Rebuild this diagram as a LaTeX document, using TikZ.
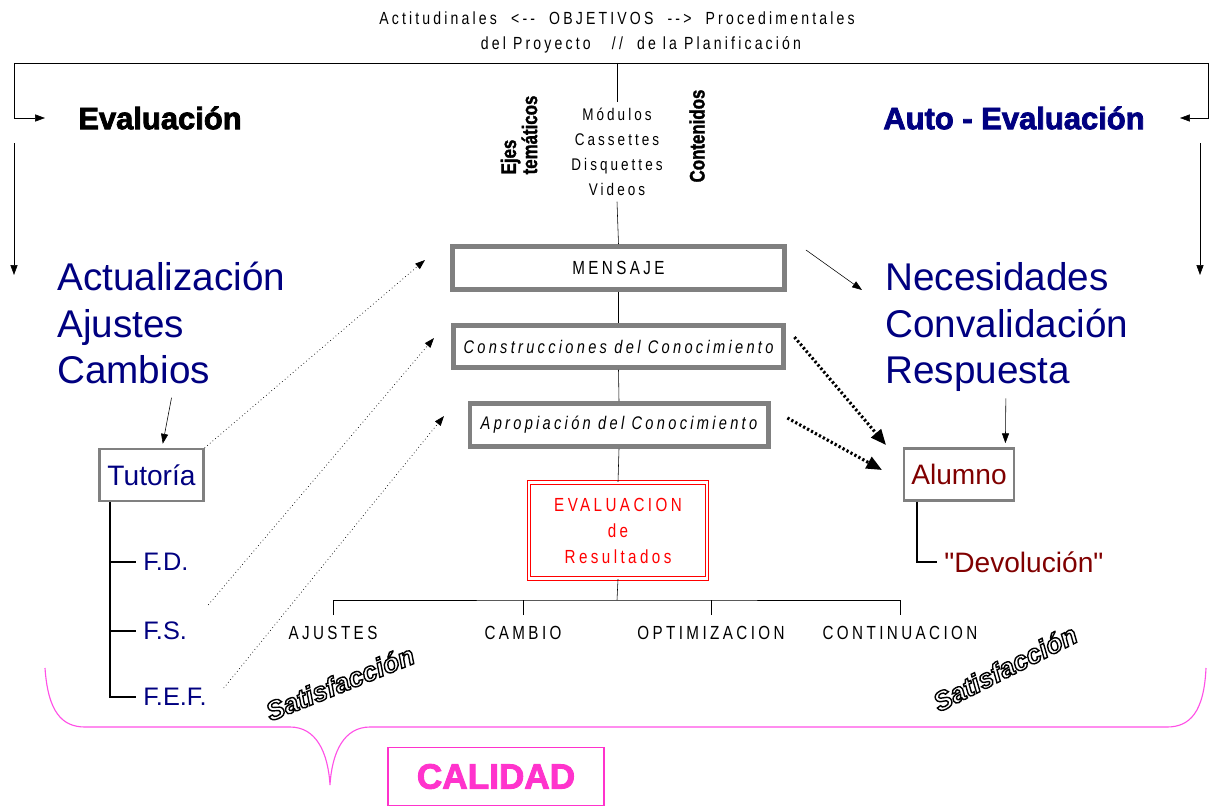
\documentclass[tikz,border=0pt]{standalone}
\usepackage{fontspec}
\setmainfont{Liberation Sans}
\newfontfamily\spacedfont[FakeStretch=0.8,LetterSpace=18]{Liberation Sans}
\newfontfamily\plainsans{Liberation Sans}
\newfontfamily\heavyfont[FakeBold=2.5]{Liberation Sans}
\newfontfamily\condbold[FakeStretch=0.8,FakeBold=1.5]{Liberation Sans}
\usetikzlibrary{arrows.meta}
\definecolor{navyblue}{RGB}{0,0,128}
\definecolor{darkred}{RGB}{128,0,0}
\definecolor{boxgray}{RGB}{128,128,128}
\definecolor{calpink}{RGB}{255,51,204}
\definecolor{bracepink}{RGB}{255,80,230}
\newcommand{\hollow}[1]{\special{pdf:literal direct 2 Tr 1 w 1 g 0 G}#1\special{pdf:literal direct 0 Tr 0 g}}

\begin{document}
\begin{tikzpicture}[x=0.025cm,y=-0.025cm,
    tip/.style={-{Triangle[length=7pt,width=5pt]}},
    thindots/.style={tip,dotted,line width=0.5pt},
    bigdots/.style={-{Triangle[length=11pt,width=9pt]},line width=2.2pt,dash pattern=on 1.6pt off 1.6pt},
    tree/.style={line width=1.4pt},
    toptext/.style={font=\spacedfont\fontsize{12.5}{14}\selectfont},
    media/.style={font=\spacedfont\fontsize{12}{17.8}\selectfont,align=center,inner sep=4pt},
    sidetitle/.style={font=\condbold\bfseries\fontsize{15}{15}\selectfont,rotate=90,align=left,inner sep=1pt},
    title/.style={font=\heavyfont\bfseries\fontsize{22}{26}\selectfont},
    bigword/.style={font=\fontsize{27.5}{33}\selectfont,text=navyblue,inner sep=0pt,anchor=base west},
    stage/.style={draw=boxgray,line width=3.5pt,font=\spacedfont\fontsize{13.5}{16}\selectfont},
    actor/.style={draw=boxgray,line width=1.5pt,font=\fontsize{20}{24}\selectfont,minimum height=1.3cm},
    branch/.style={font=\fontsize{18}{22}\selectfont,text=navyblue,anchor=west,inner sep=5pt},
    outcome/.style={font=\spacedfont\fontsize{13.5}{16}\selectfont,outer sep=5pt,anchor=north},
    sat/.style={font=\bfseries\itshape\fontsize{19}{21}\selectfont}]
\useasboundingbox (0,0) rectangle (1210,808);

% objetivos
\node[toptext] (objetivos) at (617,18) {Actitudinales\ \ <--\ \ OBJETIVOS\ \ -->\ \ Procedimentales};
\node[toptext] (planif) at (641,45) {del Proyecto\ \ \ //\ \ de la Planificación};

\coordinate (railL) at (14,63);
\coordinate (railR) at (1208,63);
\coordinate (railC) at (617,63);
\coordinate (evalIn) at (45,118);
\coordinate (autoIn) at (1180,118);
\coordinate (sideLa) at (14,143);
\coordinate (sideLb) at (14,275);
\coordinate (sideRa) at (1200,143);
\coordinate (sideRb) at (1200,275);

\node[title] (evaluacion) at (160,118) {Evaluación};
\node[title,text=navyblue] (autoeval) at (1014,118) {Auto - Evaluación};

\node[sidetitle] (ejes) at (519,135) {Ejes\\temáticos};
\node[sidetitle] (contenidos) at (697,136) {Contenidos};
\node[media] (media) at (617,152) {Módulos\\Cassettes\\Disquettes\\Videos};

% centro
\node[stage,minimum width=8.3cm,minimum height=1.07cm] (mensaje) at (618.5,268) {MENSAJE};
\node[stage,minimum width=8.25cm,minimum height=1.05cm,font=\spacedfont\itshape\fontsize{13}{16}\selectfont] (constr) at (618.5,346.5) {Construcciones del Conocimiento};
\node[stage,minimum width=7.45cm,minimum height=1.07cm,font=\spacedfont\itshape\fontsize{13}{16}\selectfont] (aprop) at (619,425) {Apropiación del Conocimiento};
\node[draw=red,double,double distance=1.5pt,line width=1pt,text=red,align=center,
      minimum width=4.45cm,minimum height=2.4cm,font=\spacedfont\fontsize{13.5}{18.5}\selectfont] (resultados) at (618,530.5) {EVALUACION\\de\\Resultados};

\coordinate (split) at (617,600);
\node[outcome] (ajustesR) at (333,615) {AJUSTES};
\node[outcome] (cambio) at (523,615) {CAMBIO};
\node[outcome] (optim) at (711,615) {OPTIMIZACION};
\node[outcome] (contin) at (900,615) {CONTINUACION};

% izquierda
\node[bigword] (actualizacion) at (57,290) {Actualización};
\node[bigword] (ajustes) at (57,337) {Ajustes};
\node[bigword] (cambios) at (57,383) {Cambios};
\node[actor,text=navyblue,minimum width=2.6cm] (tutoria) at (151.5,475) {Tutoría};
\node[branch] (fd) at (136,562) {F.D.};
\node[branch] (fs) at (136,631) {F.S.};
\node[branch] (fef) at (136,697) {F.E.F.};

% derecha
\node[bigword] (necesidades) at (885,290) {Necesidades};
\node[bigword] (convalid) at (885,337) {Convalidación};
\node[bigword] (respuesta) at (885,383) {Respuesta};
\node[actor,text=darkred,minimum width=2.75cm] (alumno) at (959,474.5) {Alumno};
\node[branch,text=darkred,font=\plainsans\fontsize{20}{24}\selectfont] (devol) at (937,562) {"Devolución"};

\node[sat,rotate=22] (satL) at (340,683) {\hollow{Satisfacción}};
\node[sat,rotate=27] (satR) at (1005,668) {\hollow{Satisfacción}};

\node[draw=calpink,line width=0.8pt,minimum width=5.4cm,minimum height=1.47cm,
      text=calpink,font=\heavyfont\bfseries\fontsize{25}{28}\selectfont] (calidad) at (496,776.5) {CALIDAD};

\coordinate (tipA) at (425,260);
\coordinate (tipB) at (434,338);
\coordinate (tipC) at (444,416);
\coordinate (needIn) at (862,290);
\coordinate (alIn1) at (886,445);
\coordinate (alIn2) at (882,470);

% conectores
\draw (railL) -- (railR);
\draw[tip] (railL) |- (evalIn);
\draw[tip] (railR) |- (autoIn);
\draw[tip] (sideLa) -- (sideLb);
\draw[tip] (sideRa) -- (sideRb);

\draw (railC) -- (media.north);
\draw (media.south) -- (mensaje.north);
\draw (mensaje.south) -- (constr.north);
\draw (constr.south) -- (aprop.north);
\draw (aprop.south) -- (resultados.north);
\draw (resultados.south) -- (split);
\draw (ajustesR.north) |- (split) -| (contin.north);
\draw (cambio.north) -- (cambio.north |- split);
\draw (optim.north) -- (optim.north |- split);

\draw[tip] ([xshift=27pt,yshift=-10pt]cambios.south) -- ([xshift=8pt,yshift=3pt]tutoria.north);
\draw[tree] ([xshift=8.5pt]tutoria.south west) coordinate (trunk) |- (fef.west);
\draw[tree] (trunk |- fd.west) -- (fd.west);
\draw[tree] (trunk |- fs.west) -- (fs.west);

\draw[thindots] (tutoria.north east) -- (tipA);
\draw[thindots] ([xshift=10pt,yshift=7pt]fs.north east) -- (tipB);
\draw[thindots] ([xshift=7pt,yshift=-5pt]fef.north east) -- (tipC);

\draw[tip] ([xshift=13.5pt,yshift=12.8pt]mensaje.east) -- (needIn);
\draw[bigdots] ([xshift=6pt,yshift=-10pt]constr.north east) -- (alIn1);
\draw[bigdots] ([xshift=12pt,yshift=5pt]aprop.east) -- (alIn2);

\draw[tip] ([xshift=20pt,yshift=-5pt]respuesta.south) -- ([xshift=33pt,yshift=3pt]alumno.north);
\draw[tree] ([xshift=10pt]alumno.south west) |- (devol.west);

% llave
\draw[bracepink,line width=0.8pt] (45,668) .. controls (48,712) and (62,727) .. (85,727) -- (290,727)
  .. controls (316,727) and (328,752) .. (330,785) .. controls (332,752) and (344,727) .. (370,727)
  -- (1167,727) .. controls (1190,727) and (1204,712) .. (1206,668);
\end{tikzpicture}
\end{document}
